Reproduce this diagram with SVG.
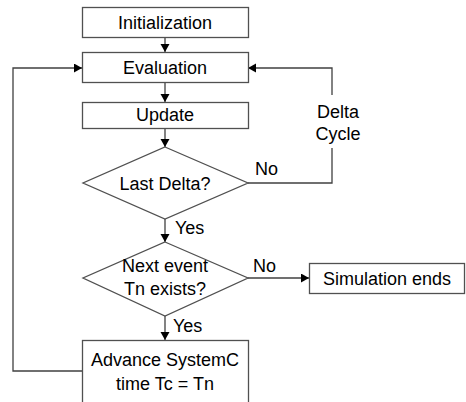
<svg xmlns="http://www.w3.org/2000/svg" width="466" height="402" viewBox="0 0 466 402">
<defs>
<style>
.box{fill:#fff;stroke:#505050;stroke-width:1.3}
.ln{fill:none;stroke:#404040;stroke-width:1.3}
.t{font-family:"Liberation Sans",Arial,sans-serif;font-size:18px;fill:#000;text-anchor:middle}
.l{font-family:"Liberation Sans",Arial,sans-serif;font-size:18px;fill:#000}
</style>
<marker id="ah" markerUnits="userSpaceOnUse" markerWidth="10" markerHeight="10" refX="8" refY="4.5" orient="auto">
<path d="M0,0 L8,4.5 L0,9 z" fill="#000"/>
</marker>
</defs>
<rect width="466" height="402" fill="#fff"/>
<g id="connectors">
<path class="ln" d="M165,37 V52" marker-end="url(#ah)"/>
<path class="ln" d="M165,82 V102" marker-end="url(#ah)"/>
<path class="ln" d="M165,128 V147" marker-end="url(#ah)"/>
<path class="ln" d="M165,219 V242" marker-end="url(#ah)"/>
<path class="ln" d="M165,316 V340" marker-end="url(#ah)"/>
<path class="ln" d="M248,278 H309" marker-end="url(#ah)"/>
<path class="ln" d="M248,183 H332 V148"/>
<path class="ln" d="M332,95 V68 H248" marker-end="url(#ah)"/>
<path class="ln" d="M82,371 H13 V68 H82" marker-end="url(#ah)"/>
<text class="l" x="255" y="175">No</text>
<text class="l" x="253" y="272">No</text>
<text class="l" x="175" y="234">Yes</text>
<text class="l" x="173" y="332">Yes</text>
<text class="t" x="338" y="118">Delta</text>
<text class="t" x="338" y="140">Cycle</text>
</g>
<g id="initialization">
<rect class="box" x="82.5" y="7.5" width="166" height="30"/>
<text class="t" x="165" y="28.5">Initialization</text>
</g>
<g id="evaluation">
<rect class="box" x="82.5" y="52.5" width="166" height="30"/>
<text class="t" x="165" y="73.5">Evaluation</text>
</g>
<g id="update">
<rect class="box" x="82.5" y="102.5" width="166" height="26"/>
<text class="t" x="165" y="120.5">Update</text>
</g>
<g id="last-delta">
<polygon class="box" points="165,147 248,183 165,219 83,183"/>
<text class="t" x="165" y="189.5">Last Delta?</text>
</g>
<g id="next-event">
<polygon class="box" points="165,242 248,278 165,316 83,278"/>
<text class="t" x="165" y="272">Next event</text>
<text class="t" x="165" y="295">Tn exists?</text>
</g>
<g id="simulation-ends">
<rect class="box" x="309.5" y="263.5" width="155" height="30"/>
<text class="t" x="387" y="284.5">Simulation ends</text>
</g>
<g id="advance">
<rect class="box" x="82.5" y="340.5" width="166" height="70"/>
<text class="t" x="165" y="366">Advance SystemC</text>
<text class="t" x="165" y="390">time Tc = Tn</text>
</g>
</svg>
